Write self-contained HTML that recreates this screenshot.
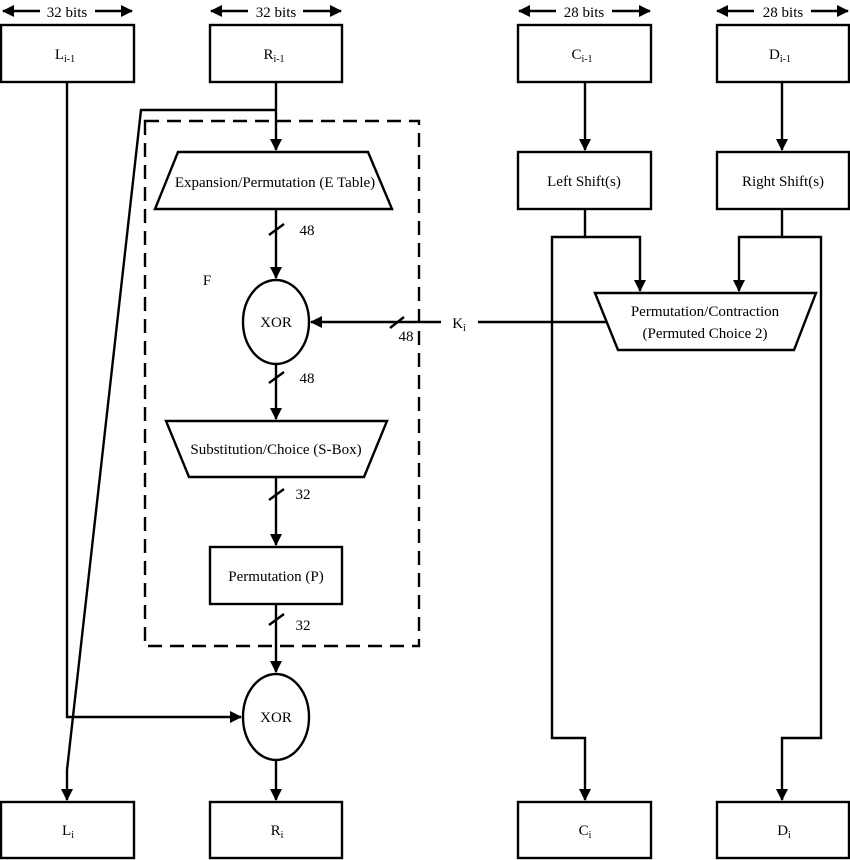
<!DOCTYPE html>
<html><head><meta charset="utf-8"><style>
html,body{margin:0;padding:0;background:#fff;width:850px;height:860px;overflow:hidden}
svg{display:block}
text{font-family:"Liberation Serif",serif;fill:#000}
</style></head><body>
<svg width="850" height="860" viewBox="0 0 850 860" xmlns="http://www.w3.org/2000/svg">
<defs>
<marker id="a" markerWidth="12" markerHeight="12" refX="11" refY="6" orient="auto" markerUnits="userSpaceOnUse"><path d="M0,0 L12,6 L0,12 z" fill="#000"/></marker>
<marker id="b" markerWidth="12" markerHeight="12" refX="11" refY="6" orient="auto" markerUnits="userSpaceOnUse"><path d="M0,0 L12,6 L0,12 z" fill="#000"/></marker>
</defs>
<g stroke="#000" stroke-width="2.4" fill="none">
<line x1="40" y1="11" x2="3" y2="11" marker-end="url(#b)"/><line x1="95" y1="11" x2="132" y2="11" marker-end="url(#b)"/>
<line x1="248" y1="11" x2="211" y2="11" marker-end="url(#b)"/><line x1="303" y1="11" x2="341" y2="11" marker-end="url(#b)"/>
<line x1="556" y1="11" x2="519" y2="11" marker-end="url(#b)"/><line x1="612" y1="11" x2="650" y2="11" marker-end="url(#b)"/>
<line x1="754" y1="11" x2="717" y2="11" marker-end="url(#b)"/><line x1="811" y1="11" x2="848" y2="11" marker-end="url(#b)"/>
<rect x="1" y="25" width="133" height="57"/><rect x="210" y="25" width="132" height="57"/>
<rect x="518" y="25" width="133" height="57"/><rect x="717" y="25" width="132" height="57"/>
<rect x="518" y="152" width="133" height="57"/><rect x="717" y="152" width="132" height="57"/>
<rect x="210" y="547" width="132" height="57"/>
<rect x="1" y="802" width="133" height="56"/><rect x="210" y="802" width="132" height="56"/>
<rect x="518" y="802" width="133" height="56"/><rect x="717" y="802" width="132" height="56"/>
<path d="M178,152 L368,152 L392,209 L155,209 Z"/>
<path d="M166,421 L387,421 L364,477 L189,477 Z"/>
<path d="M595,293 L816,293 L794,350 L618,350 Z"/>
<ellipse cx="276" cy="322" rx="33" ry="42"/>
<ellipse cx="276" cy="717" rx="33" ry="43"/>
<rect x="145" y="121" width="274" height="525" stroke-dasharray="14,8"/>
<polyline points="67,82 67,717 241,717" marker-end="url(#a)"/>
<line x1="276" y1="82" x2="276" y2="150" marker-end="url(#a)"/>
<polyline points="276,110 141,110 67,770 67,800" marker-end="url(#a)"/>
<line x1="276" y1="209" x2="276" y2="278" marker-end="url(#a)"/>
<line x1="276" y1="364" x2="276" y2="419" marker-end="url(#a)"/>
<line x1="276" y1="477" x2="276" y2="545" marker-end="url(#a)"/>
<line x1="276" y1="604" x2="276" y2="672" marker-end="url(#a)"/>
<line x1="276" y1="760" x2="276" y2="800" marker-end="url(#a)"/>
<line x1="269" y1="235" x2="284" y2="224"/>
<line x1="269" y1="383" x2="284" y2="372"/>
<line x1="269" y1="500" x2="284" y2="489"/>
<line x1="269" y1="625" x2="284" y2="614"/>
<line x1="390" y1="328" x2="404" y2="317"/>
<line x1="441" y1="322" x2="311" y2="322" marker-end="url(#a)"/>
<line x1="478" y1="322" x2="606" y2="322"/>
<line x1="585" y1="82" x2="585" y2="150" marker-end="url(#a)"/>
<line x1="782" y1="82" x2="782" y2="150" marker-end="url(#a)"/>
<polyline points="585,209 585,237 640,237 640,291" marker-end="url(#a)"/>
<polyline points="585,237 552,237 552,738 585,738 585,800" marker-end="url(#a)"/>
<polyline points="782,209 782,237 739,237 739,291" marker-end="url(#a)"/>
<polyline points="782,237 821,237 821,738 782,738 782,800" marker-end="url(#a)"/>
</g>
<g font-size="15" text-anchor="middle">
<text x="67" y="17">32 bits</text><text x="276" y="17">32 bits</text>
<text x="584" y="17">28 bits</text><text x="783" y="17">28 bits</text>
<text x="65" y="59">L<tspan font-size="10" dy="3">i-1</tspan></text>
<text x="274" y="59">R<tspan font-size="10" dy="3">i-1</tspan></text>
<text x="582" y="59">C<tspan font-size="10" dy="3">i-1</tspan></text>
<text x="780" y="59">D<tspan font-size="10" dy="3">i-1</tspan></text>
<text x="584" y="186">Left Shift(s)</text>
<text x="783" y="186">Right Shift(s)</text>
<text x="275" y="187">Expansion/Permutation (E Table)</text>
<text x="276" y="454">Substitution/Choice (S-Box)</text>
<text x="276" y="581">Permutation (P)</text>
<text x="705" y="316">Permutation/Contraction</text>
<text x="705" y="338">(Permuted Choice 2)</text>
<text x="276" y="327">XOR</text>
<text x="276" y="722">XOR</text>
<text x="307" y="235">48</text><text x="307" y="383">48</text>
<text x="303" y="499">32</text><text x="303" y="630">32</text>
<text x="406" y="341">48</text>
<text x="207" y="285">F</text>
<text x="459" y="328">K<tspan font-size="10" dy="3">i</tspan></text>
<text x="68" y="835">L<tspan font-size="10" dy="3">i</tspan></text>
<text x="277" y="835">R<tspan font-size="10" dy="3">i</tspan></text>
<text x="585" y="835">C<tspan font-size="10" dy="3">i</tspan></text>
<text x="784" y="835">D<tspan font-size="10" dy="3">i</tspan></text>
</g>
</svg>
</body></html>
